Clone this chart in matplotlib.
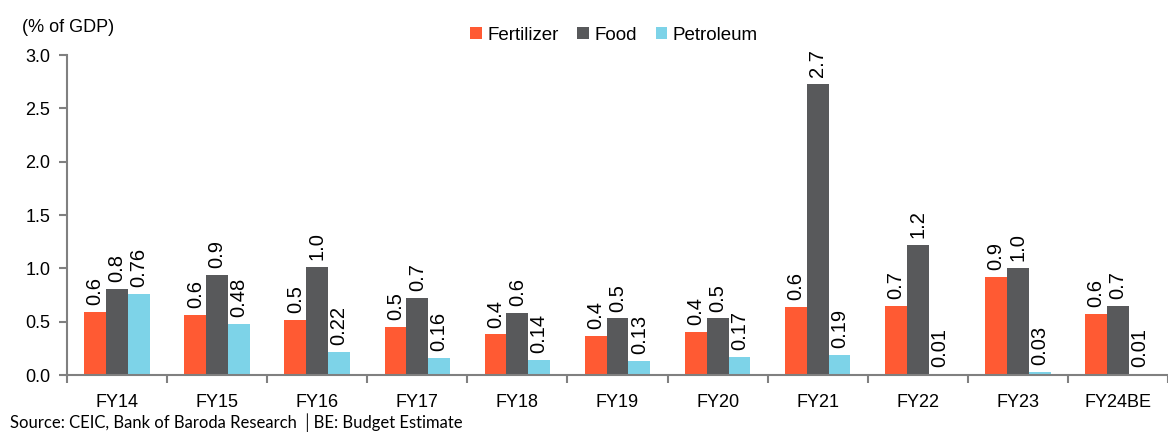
import numpy as np
import matplotlib
matplotlib.use("Agg")
import matplotlib.pyplot as plt

plt.rcParams['font.family'] = ['Liberation Sans', 'DejaVu Sans']

# Subsidies as % of GDP
years = ["FY14", "FY15", "FY16", "FY17", "FY18", "FY19", "FY20",
         "FY21", "FY22", "FY23", "FY24BE"]
fertilizer = [0.59, 0.56, 0.52, 0.45, 0.38, 0.37, 0.40, 0.64, 0.65, 0.92, 0.57]
food = [0.81, 0.94, 1.01, 0.72, 0.58, 0.53, 0.53, 2.73, 1.22, 1.00, 0.65]
petroleum = [0.76, 0.48, 0.22, 0.16, 0.14, 0.13, 0.17, 0.19, 0.01, 0.03, 0.01]

series = [("Fertilizer", fertilizer, "#FF5A33", "{:.1f}"),
          ("Food", food, "#58595B", "{:.1f}"),
          ("Petroleum", petroleum, "#7DD3E8", "{:.2f}")]

fig = plt.figure(figsize=(11.68, 4.32), dpi=100)
ax = fig.add_axes([67 / 1168, 1 - 375 / 432, 1 - 67 / 1168, 320 / 432])

x = np.arange(len(years))
w = 0.218
for i, (name, vals, col, fmt) in enumerate(series):
    pos = x + (i - 1) * w
    bars = ax.bar(pos, vals, width=w, color=col, label=name, zorder=2)
    for b, v in zip(bars, vals):
        ax.annotate(fmt.format(v), (b.get_x() + b.get_width() / 2, v),
                    xytext=(0, 5), textcoords="offset points",
                    rotation=90, ha="center", va="bottom", fontsize=14.5)

ax.set_ylim(0, 3.0)
ax.set_yticks(np.arange(0, 3.01, 0.5))
ax.set_yticklabels([f"{t:.1f}" for t in np.arange(0, 3.01, 0.5)], fontsize=13)
ax.set_xlim(-0.5, 10.37)
ax.set_xticks(x)
ax.set_xticklabels(years, fontsize=13)
ax.set_xticks(np.arange(-0.5, 10.6, 1), minor=True)
ax.tick_params(axis="x", which="major", length=0, pad=14)
ax.tick_params(axis="x", which="minor", length=6, color="#808080", width=1.5)
ax.tick_params(axis="y", length=6, color="#808080", width=1.5, pad=6)

for s in ["top", "right"]:
    ax.spines[s].set_visible(False)
for s in ["left", "bottom"]:
    ax.spines[s].set_color("#808080")
    ax.spines[s].set_linewidth(1.5)

fig.legend(loc="center", bbox_to_anchor=(614 / 1168, 1 - 35 / 432), ncol=3,
           frameon=False, fontsize=13.5, handlelength=0.6, handleheight=0.6,
           handletextpad=0.3, columnspacing=1.0)

fig.text(22 / 1168, 1 - 27 / 432, "(% of GDP)", fontsize=13, va="center", ha="left")
fig.text(10 / 1168, 1 - 423 / 432, "Source: CEIC, Bank of Baroda Research \u2502BE: Budget Estimate",
         fontsize=12, va="center", ha="left", family=["Lato", "DejaVu Sans"])

fig.savefig("out.png", dpi=100)
